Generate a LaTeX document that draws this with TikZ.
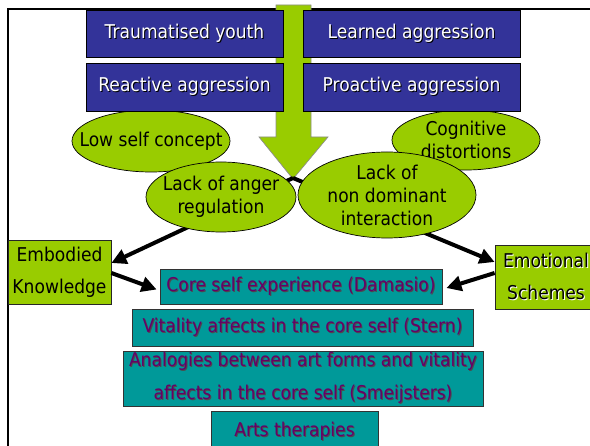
\documentclass[tikz,border=0pt]{standalone}
\usepackage{fontspec}
\setmainfont{DejaVu Sans}[FakeStretch=0.9]
\usetikzlibrary{shapes.geometric,arrows.meta,calc}
\definecolor{boxblue}{HTML}{333399}
\definecolor{limeg}{HTML}{99CC00}
\definecolor{tealb}{HTML}{009999}
\definecolor{purp}{HTML}{660066}
\newcommand\shadowtxt[3]{\leavevmode\rlap{\kern1pt\raisebox{-1pt}{\textcolor{#2}{#3}}}\textcolor{#1}{#3}}
\pgfdeclarelayer{bglayer}
\pgfdeclarelayer{midlayer}
\pgfsetlayers{bglayer,midlayer,main}
\tikzset{
  bluebox/.style={rectangle, fill=boxblue, draw=black, line width=0.8pt, inner sep=0pt,
    font=\fontsize{19}{23}\selectfont},
  ellbox/.style={ellipse, fill=limeg, draw=black, line width=0.7pt, inner sep=-30pt,
    align=center, font=\fontsize{19}{23}\selectfont},
  greenbox/.style={rectangle, fill=limeg, draw=black!85, line width=0.8pt, inner sep=0pt,
    align=center, font=\fontsize{19}{32}\selectfont},
  tealbox/.style={rectangle, fill=tealb, draw=black!80, line width=0.8pt, inner sep=0pt,
    align=center, font=\fontsize{19}{33}\selectfont},
  conn/.style={line width=4pt, -{Triangle[length=15pt,width=15pt]}},
  bigarrow/.style={fill=limeg, draw=black!45, line width=0.7pt, line join=miter},
}
\begin{document}
\begin{tikzpicture}[x=1pt,y=-1pt]
\useasboundingbox (0,0) rectangle (590,446);
\clip (0,0) rectangle (590,446);

% frame and big arrow
\begin{pgfonlayer}{bglayer}
\draw[line width=2.5pt] (8,460) -- (8,9) -- (600,9);
\draw[bigarrow] (276,5) -- (276,137) -- (259,137) -- (293,179) -- (328,137) -- (311,137) -- (311,5) -- cycle;
\end{pgfonlayer}
\coordinate (tip) at (293,178);

% ellipses behind boxes
\node[ellbox, minimum width=158pt, minimum height=62pt] (low) at (151,141) {Low self concept};
\node[ellbox, minimum width=148pt, minimum height=60pt] (cog) at (466,140) {Cognitive\\distortions};

% blue boxes
\node[bluebox, minimum width=197pt, minimum height=47pt] (trau) at (184.5,33.5) {\shadowtxt{white}{black}{Traumatised youth}};
\node[bluebox, minimum width=217pt, minimum height=47pt] (learn) at (411.5,33.5) {\shadowtxt{white}{black}{Learned aggression}};
\node[bluebox, minimum width=197pt, minimum height=48pt] (react) at (184.5,87) {\shadowtxt{white}{black}{Reactive aggression}};
\node[bluebox, minimum width=217pt, minimum height=48pt] (proact) at (411.5,87) {\shadowtxt{white}{black}{Proactive aggression}};

% lack ellipses
\node[ellbox, minimum width=150pt, minimum height=70pt] (anger) at (221,197) {Lack of anger\\regulation};
\node[ellbox, minimum width=178pt, minimum height=86pt] (nondom) at (387,195) {Lack of\\non dominant\\interaction};

% green boxes
\node[greenbox, minimum width=103pt, minimum height=64pt] (emb) at (59.5,272) {Embodied\\Knowledge};
\node[greenbox, minimum width=102pt, minimum height=64pt] (emo) at (546,277) {\shadowtxt{black}{white}{Emotional}\\\shadowtxt{black}{white}{Schemes}};

% teal boxes
\node[tealbox, minimum width=282pt, minimum height=35pt] (core) at (301,286.5) {\shadowtxt{purp}{black!70}{Core self experience (Damasio)}};
\node[tealbox, minimum width=341pt, minimum height=37pt] (vital) at (302.5,327.5) {\shadowtxt{purp}{black!70}{Vitality affects in the core self (Stern)}};
\node[tealbox, minimum width=360pt, minimum height=55pt] (analog) at (303,378.5) {\shadowtxt{purp}{black!70}{Analogies between art forms and vitality}\\\shadowtxt{purp}{black!70}{affects in the core self (Smeijsters)}};
\node[tealbox, minimum width=167pt, minimum height=42pt] (arts) at (294.5,432) {\shadowtxt{purp}{black!70}{Arts therapies}};

% connectors
\begin{pgfonlayer}{midlayer}
\draw[conn] (tip) -- ([yshift=9pt]emb.east);
\draw[conn] (tip) -- ([yshift=15pt]emo.west);
\end{pgfonlayer}
\draw[conn] ([yshift=-1pt]emb.east) -- ([xshift=-3pt,yshift=-3pt]core.west);
\draw[conn] ([yshift=4pt]emo.west) -- ([xshift=4pt,yshift=-1.5pt]core.east);
\end{tikzpicture}
\end{document}
